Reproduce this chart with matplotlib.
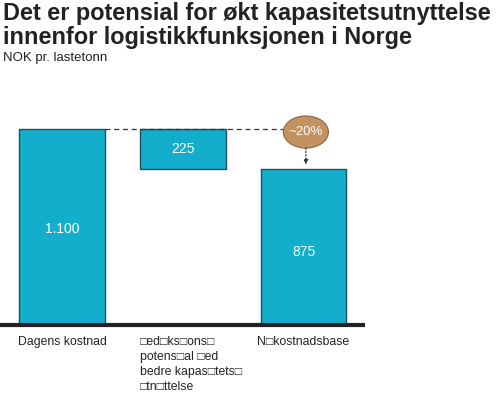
import matplotlib
matplotlib.use('Agg')
import matplotlib.pyplot as plt
from matplotlib.patches import Ellipse

plt.rcParams['font.family'] = ['Liberation Sans', 'DejaVu Sans']

# Data
categories = ['Dagens kostnad',
              '\u25a1ed\u25a1ks\u25a1ons\u25a1\npotens\u25a1al \u25a1ed\nbedre kapas\u25a1tets\u25a1\n\u25a1tn\u25a1ttelse',
              'N\u25a1kostnadsbase']
start_value = 1100
reduction = 225
end_value = start_value - reduction
value_labels = ['1.100', '225', '875']
change_label = '~20%'

BAR = '#13AECB'
EDGE = '#1E4F5C'
BROWN = '#C39260'

fig = plt.figure(figsize=(5, 3.96), dpi=100)
# axis spans from baseline (y=71px from bottom) to top of figure
ax = fig.add_axes([0, 71 / 396, 1, 325 / 396], frameon=False)
ax.set_xlim(-0.513, 3.627)
ax.set_ylim(0, start_value * 325 / 196)
ax.axis('off')

w = 0.71
ax.bar(0, start_value, width=w, color=BAR, edgecolor=EDGE, linewidth=1)
ax.bar(1, reduction, bottom=end_value, width=w, color=BAR, edgecolor=EDGE, linewidth=1)
ax.bar(2, end_value, width=w, color=BAR, edgecolor=EDGE, linewidth=1)

ax.text(0, start_value / 2 - 10, value_labels[0], color='white', ha='center', va='center', fontsize=10)
ax.text(1, end_value + reduction / 2, value_labels[1], color='white', ha='center', va='center', fontsize=10)
ax.text(2, end_value / 2 - 30, value_labels[2], color='white', ha='center', va='center', fontsize=10)

# baseline
ax.plot([-0.52, 2.51], [0, 0], color='#222222', lw=3, solid_capstyle='butt', clip_on=False)

# dashed connector
ax.plot([w / 2, 1.83], [start_value, start_value], color='#333333', lw=0.9, ls=(0, (4, 3)))

# ellipse with percentage
ell_y = start_value - 17
ax.add_patch(Ellipse((2.02, ell_y), 0.373, 180, facecolor=BROWN, edgecolor='#8A6440', lw=0.8, zorder=3))
ax.text(2.02, ell_y, change_label, color='white', ha='center', va='center', fontsize=9.5, zorder=4)
ax.annotate('', xy=(2.02, end_value + 25), xytext=(2.02, ell_y - 90),
            arrowprops=dict(arrowstyle='-|>', color='#333333', lw=0.9, ls=':', mutation_scale=7,
                            shrinkA=0, shrinkB=0))

# category labels
lab_y = -62
ax.text(0, lab_y, categories[0], ha='center', va='top', fontsize=8.8, color='#222222')
ax.text(1 - w / 2, lab_y, categories[1], ha='left', va='top', fontsize=8.8, color='#222222', linespacing=1.33)
ax.text(2, lab_y, categories[2], ha='center', va='top', fontsize=8.8, color='#222222')

fig.text(0.006, 1 - 2 / 396, 'Det er potensial for økt kapasitetsutnyttelse\ninnenfor logistikkfunksjonen i Norge',
         ha='left', va='top', fontsize=16.9, fontweight='bold', color='#222222', linespacing=1.08)
fig.text(0.006, 1 - 52 / 396, 'NOK pr. lastetonn', ha='left', va='top', fontsize=9.5, color='#222222')

fig.savefig('out.png', dpi=100)
